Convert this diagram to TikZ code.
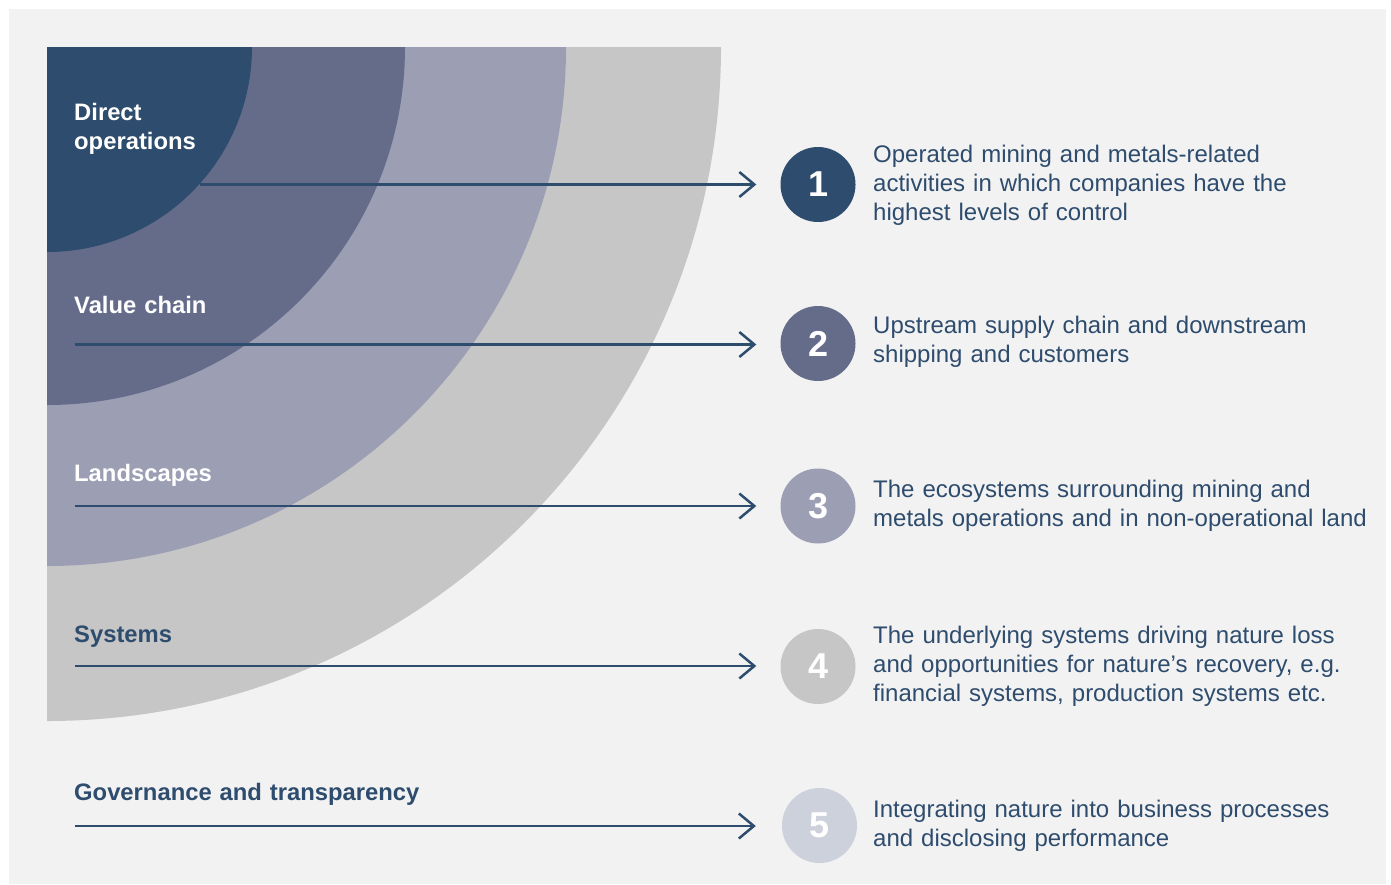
\documentclass[tikz,border=0pt]{standalone}
\usepackage{fontspec}
\setmainfont{Liberation Sans}
\usetikzlibrary{arrows.meta}
\definecolor{bgc}{HTML}{F2F2F2}
\definecolor{cA}{HTML}{2E4C6D}
\definecolor{cB}{HTML}{646C8A}
\definecolor{cC}{HTML}{9C9FB4}
\definecolor{cD}{HTML}{C6C6C6}
\definecolor{cE}{HTML}{CDD1DC}
\tikzset{
  x=1pt,y=1pt,
  arr/.style={draw=cA, line width=2.5pt, -{Straight Barb[length=15pt,width=25pt]}},
  num/.style={circle, minimum size=75pt, inner sep=0pt, text=white, font=\fontsize{36}{36}\selectfont\bfseries},
  desc/.style={anchor=base west, inner sep=0pt, text=cA, align=left, text width=520pt, font=\fontsize{24}{29}\selectfont},
  lbl/.style={anchor=base west, inner sep=0pt, align=left, text width=400pt, font=\fontsize{23.8}{29}\selectfont\bfseries},
}
\begin{document}
\begin{tikzpicture}
\useasboundingbox (0,0) rectangle (1391,-884);
\fill[white] (0,0) rectangle (1391,-884);
\fill[bgc] (9,-9) rectangle (1386,-884);
\begin{scope}
\clip (47,-47) rectangle (1000,-1000);
\fill[cD] (47,-47) circle (674);
\fill[cC] (47,-47) circle (519);
\fill[cB] (47,-47) circle (358);
\fill[cA] (47,-47) circle (205);
\end{scope}
% labels
\node[lbl, text=white] (l1) at (74,-120) {Direct\\operations};
\node[lbl, text=white] (l2) at (74,-313) {Value chain};
\node[lbl, text=white] (l3) at (74,-481) {Landscapes};
\node[lbl, text=cA] (l4) at (74,-642) {Systems};
\node[lbl, text=cA] (l5) at (74,-800) {Governance and transparency};
% number circles
\node[num, fill=cA] (n1) at (818,-184.5) {1};
\node[num, fill=cB] (n2) at (818,-343.5) {2};
\node[num, fill=cC] (n3) at (818,-506) {3};
\node[num, fill=cD] (n4) at (818,-666.5) {4};
\node[num, fill=cE] (n5) at (819.5,-825.5) {5};
% arrow starts
\coordinate (s1) at (200,-184.5);
\coordinate (s2) at (75,-344.5);
\coordinate (s3) at (75,-506);
\coordinate (s4) at (75,-666);
\coordinate (s5) at (75,-826);
\draw[arr, shorten >=24pt] (s1) -- (s1 -| n1.west);
\draw[arr, shorten >=24pt] (s2) -- (s2 -| n2.west);
\draw[arr, shorten >=24pt] (s3) -- (s3 -| n3.west);
\draw[arr, shorten >=24pt] (s4) -- (s4 -| n4.west);
\draw[arr, shorten >=26pt] (s5) -- (s5 -| n5.west);
% descriptions
\node[desc] (d1) at (873,-162) {Operated mining and metals-related\\activities in which companies have the\\highest levels of control};
\node[desc] (d2) at (873,-333) {Upstream supply chain and downstream\\shipping and customers};
\node[desc] (d3) at (873,-497) {The ecosystems surrounding mining and\\metals operations and in non-operational land};
\node[desc] (d4) at (873,-643) {The underlying systems driving nature loss\\and opportunities for nature’s recovery, e.g.\\financial systems, production systems etc.};
\node[desc] (d5) at (873,-817) {Integrating nature into business processes\\and disclosing performance};
\end{tikzpicture}
\end{document}
